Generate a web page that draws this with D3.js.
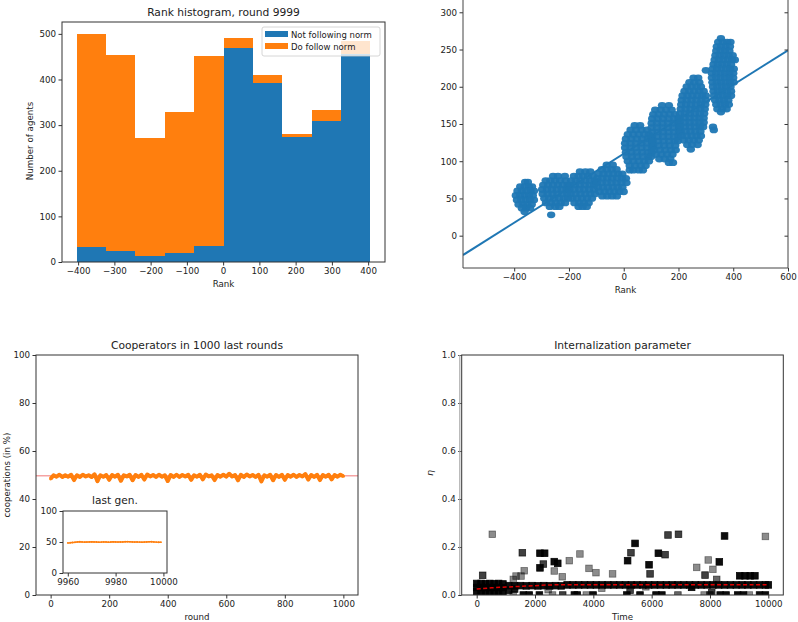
<!DOCTYPE html>
<html>
<head>
<meta charset="utf-8">
<script src="https://cdn.jsdelivr.net/npm/d3@7"></script>
<style>
body { margin: 0; background: #fff; }
svg { display: block; font-family: "DejaVu Sans", sans-serif; }
</style>
</head>
<body>
<svg id="fig" width="798" height="622"></svg>
<script>
// ---- rank histogram (round 9999)
var binEdges = [-404, -323, -242, -161, -80, 1, 82, 163, 244, 325, 406];
var notFollowing = [33, 25, 14, 19, 35, 469, 393, 273, 310, 456];
var doFollow = [467, 429, 258, 310, 416, 21, 17, 7, 24, 28];
var histLegend = ["Not following norm", "Do follow norm"];

// ---- rank vs value scatter: rows of [value, rank, rank, ...]
var rankRows = [
  [72, -360, -350], [66, -378, -362, -346, -335], [60, -388, -372, -356, -340, -328],
  [54, -394, -378, -362, -346, -332], [48, -390, -374, -358, -342, -328],
  [42, -384, -368, -352, -336], [37, -372, -356, -342], [32, -362],
  [80, -258, -240, -215], [74, -285, -268, -250, -232, -212], [68, -294, -276, -258, -240, -222, -205],
  [62, -298, -280, -262, -244, -226, -208], [56, -296, -278, -260, -242, -224, -206],
  [50, -290, -272, -254, -236, -218, -203], [44, -284, -266, -248, -230, -214], [39, -270, -250, -235], [28, -265],
  [86, -160, -140, -122], [80, -182, -165, -148, -130, -112], [74, -192, -175, -158, -140, -122, -106],
  [68, -196, -178, -160, -142, -124, -108], [62, -198, -180, -162, -144, -126, -108],
  [56, -194, -176, -158, -140, -122, -105], [50, -188, -170, -152, -134, -116], [44, -180, -162, -145, -128], [39, -165, -150, -135],
  [95, -62, -40], [89, -80, -62, -44, -26], [83, -92, -74, -56, -38, -20, -5],
  [77, -96, -78, -60, -42, -24, -6, 8], [71, -98, -80, -62, -44, -26, -8, 10],
  [65, -94, -76, -58, -40, -22, -5], [59, -88, -70, -52, -34, -16, 0], [53, -78, -60, -42, -25],
  [148, 40, 60], [142, 25, 45, 65, 85], [136, 15, 35, 55, 75, 92], [130, 8, 28, 48, 68, 88, 102],
  [124, 5, 25, 45, 65, 85, 104], [118, 5, 25, 45, 65, 85, 104], [112, 8, 28, 48, 68, 88, 102],
  [106, 10, 30, 50, 70, 90, 100], [100, 15, 35, 55, 75, 92], [94, 22, 42, 62, 80], [88, 22, 35, 55, 70],
  [175, 140, 165], [169, 115, 135, 155, 175], [163, 108, 128, 148, 168, 188],
  [157, 104, 124, 144, 164, 184, 200], [151, 102, 122, 142, 162, 182, 200], [145, 102, 122, 142, 162, 182, 202],
  [139, 104, 124, 144, 164, 184, 202], [133, 104, 124, 144, 164, 184, 200], [127, 106, 126, 146, 166, 186, 198],
  [121, 108, 128, 148, 168, 188], [115, 112, 132, 152, 172, 190], [109, 118, 138, 158, 178],
  [103, 130, 150, 170], [98, 165, 180],
  [212, 255, 272], [206, 240, 258, 276], [200, 230, 248, 266, 282], [194, 222, 240, 258, 276, 292],
  [188, 215, 233, 251, 269, 287, 300], [182, 212, 230, 248, 266, 284, 300], [176, 210, 228, 246, 264, 282, 298],
  [170, 208, 226, 244, 262, 280, 296], [164, 206, 224, 242, 260, 278, 294], [158, 205, 223, 241, 259, 277, 292],
  [152, 205, 223, 241, 259, 277, 292], [146, 206, 224, 242, 260, 278, 290], [140, 208, 226, 244, 262, 280],
  [134, 212, 230, 248, 266, 282], [128, 220, 238, 256, 274], [122, 232, 250, 270], [116, 245],
  [222, 300], [146, 326], [142, 329],
  [265, 355], [260, 345, 362, 378, 390], [254, 340, 356, 372, 388], [248, 338, 354, 370, 386],
  [242, 335, 351, 367, 383, 398], [236, 332, 348, 364, 380, 396, 406], [230, 328, 344, 360, 376, 392],
  [224, 325, 341, 357, 373, 389, 402], [218, 322, 338, 354, 370, 386, 400], [212, 322, 338, 354, 370, 386, 400],
  [206, 324, 340, 356, 372, 388, 402], [200, 326, 342, 358, 374, 390], [194, 328, 344, 360, 376, 392],
  [188, 330, 346, 362, 378, 392], [182, 334, 350, 366, 382], [176, 338, 354, 370, 384],
  [170, 342, 360, 376], [166, 355]
];
var fitLine = [[-587, -26], [600, 249]];

// ---- cooperators in the 1000 last rounds (every 10th round)
var coopRounds = d3.range(0, 1001, 10);
var coopPct = [48.4, 49.9, 49.3, 50.1, 49.2, 49.9, 49.3, 50.1, 47.9, 49.9,
  49.2, 50.1, 49.4, 49.9, 49.2, 50.3, 47.4, 49.9, 49.3, 50.0,
  48.0, 50.0, 49.3, 50.1, 47.6, 49.9, 49.4, 50.1, 47.8, 50.0,
  49.2, 50.1, 48.1, 50.2, 49.4, 50.0, 49.2, 50.1, 49.3, 49.9,
  47.5, 50.0, 49.2, 50.1, 49.2, 50.0, 49.4, 50.1, 48.0, 49.9,
  49.3, 50.1, 48.2, 50.2, 49.4, 49.9, 47.9, 50.0, 49.3, 50.1,
  49.3, 50.5, 49.4, 50.0, 47.8, 50.1, 49.2, 50.2, 49.4, 50.0,
  49.2, 50.1, 47.3, 49.9, 49.3, 50.1, 47.8, 50.0, 49.2, 50.1,
  48.0, 50.0, 49.3, 50.1, 49.2, 50.0, 49.4, 50.4, 48.1, 50.0,
  49.2, 50.1, 47.9, 50.0, 49.3, 50.1, 48.2, 50.0, 49.3, 50.1, 49.5];
var coopMean = 49.7;

// ---- last generation inset
var lastRounds = d3.range(9960, 10000);
var lastPct = [48.5, 48.8, 49.2, 49.6, 50.1, 50.4, 50.2, 49.8, 49.9, 50.1,
  50.3, 50.2, 50.0, 49.7, 49.9, 50.2, 50.1, 49.8, 50.0, 50.3,
  50.2, 49.9, 50.0, 50.1, 50.4, 50.5, 50.3, 50.1, 49.9, 50.0,
  49.8, 49.7, 49.9, 50.1, 50.3, 50.4, 50.2, 49.8, 49.6, 49.7];

// ---- internalization parameter: [time, eta, opacity]
var etaPts = [
  // dense band
  [0, 0.048, .95], [150, 0.048, .95], [300, 0.047, .95], [450, 0.048, .95], [600, 0.047, .95], [750, 0.048, .95], [900, 0.046, .95],
  [0, 0.031, .95], [150, 0.031, .95], [300, 0.031, .95], [450, 0.031, .95], [600, 0.031, .95], [750, 0.031, .95], [900, 0.031, .95],
  [0, 0.014, .95], [150, 0.014, .95], [300, 0.014, .95], [450, 0.014, .95], [600, 0.014, .95], [750, 0.014, .95], [900, 0.014, .95],
  [1100, 0.039, .95], [1300, 0.038, .95], [1500, 0.039, .95], [1700, 0.038, .95], [1900, 0.039, .95],
  [2100, 0.038, .95], [2300, 0.039, .95], [2500, 0.038, .95], [2700, 0.039, .95], [2900, 0.038, .95],
  [1100, 0.02, .9], [1300, 0.025, .9],
  [3100, 0.042, .95], [3300, 0.042, .95], [3500, 0.042, .95], [3700, 0.042, .95], [3900, 0.042, .95],
  [4100, 0.042, .95], [4300, 0.042, .95], [4500, 0.042, .95], [4700, 0.042, .95], [4900, 0.042, .95],
  [5100, 0.042, .95], [5300, 0.042, .95], [5500, 0.042, .95], [5700, 0.042, .95], [5900, 0.042, .95],
  [6100, 0.042, .95], [6300, 0.042, .95], [6500, 0.042, .95], [6700, 0.042, .95], [6900, 0.042, .95],
  [7100, 0.042, .95], [7300, 0.042, .95], [7500, 0.042, .95], [7700, 0.042, .95], [7900, 0.042, .95],
  [8100, 0.042, .95], [8300, 0.042, .95], [8500, 0.042, .95], [8700, 0.042, .95], [8900, 0.042, .95],
  [9100, 0.042, .95], [9300, 0.042, .95], [9500, 0.042, .95], [9700, 0.042, .95], [9900, 0.042, .95], [10000, 0.042, .95],
  // scattered agents
  [535, 0.253, .45], [205, 0.082, .75], [1255, 0.065, .45], [1350, 0.079, .45], [1520, 0.079, .45],
  [1630, 0.101, .45], [1565, 0.176, .75], [2170, 0.174, .95], [2330, 0.174, .95], [2285, 0.129, .75],
  [2170, 0.113, .95], [2660, 0.139, .95], [2780, 0.132, .95], [2660, 0.1, .45], [2935, 0.076, .45],
  [3175, 0.143, .45], [3540, 0.171, .45], [3850, 0.111, .45], [4090, 0.093, .45], [4660, 0.088, .45],
  [4290, 0.028, .45], [2450, 0.022, .45], [5175, 0.143, .95], [5290, 0.176, .75], [5430, 0.215, .95],
  [5910, 0.126, .95], [5945, 0.088, .75], [6230, 0.174, .95], [6460, 0.168, .75], [6560, 0.25, .75],
  [6920, 0.253, .75], [7545, 0.115, .45], [7940, 0.146, .45], [8100, 0.107, .45], [7830, 0.083, .75],
  [8230, 0.065, .6], [8320, 0.138, .95], [8500, 0.246, .95], [9900, 0.244, .45],
  [9020, 0.08, .95], [9200, 0.08, .95], [9380, 0.08, .95], [9540, 0.08, .95],
  [5260, 0.02, .75], [7370, 0.032, .95], [8060, 0.01, .75], [5800, 0.034, .45],
  // agents at zero
  [1250, 0, .45], [1600, 0, .95], [1800, 0, .95], [2150, 0, .95], [2600, 0, .45], [2950, 0, .75],
  [3350, 0, .95], [3450, 0, .95], [3760, 0, .45], [3990, 0, .95], [5150, 0, .95], [5600, 0, .95],
  [6150, 0, .95], [6350, 0, .95], [6900, 0, .6], [7800, 0, .45], [8000, 0, .75], [8350, 0, .95],
  [8550, 0, .95], [8950, 0, .95], [9150, 0, .95], [9350, 0, .45], [9700, 0, .95], [9900, 0, .95]
];
var etaMean = [[0, 0.025], [500, 0.03], [1000, 0.033], [1500, 0.036], [2000, 0.039], [2500, 0.042], [3000, 0.043], [10000, 0.043]];

var blue = "#1f77b4", orange = "#ff7f0e", ink = "#222";
var svg = d3.select("#fig");

function frame(x0, y0, x1, y1) {
  svg.append("rect")
    .attr("x", x0).attr("y", y0)
    .attr("width", x1 - x0).attr("height", y1 - y0)
    .attr("fill", "none").attr("stroke", "#333").attr("stroke-width", 1);
}

function axis(gen, tx, ty) {
  var a = svg.append("g")
    .attr("transform", "translate(" + tx + "," + ty + ")")
    .call(gen.tickSize(3.5).tickPadding(2.5).tickSizeOuter(0));
  a.attr("font-family", null).attr("font-size", null);
  a.select(".domain").remove();
  a.selectAll(".tick line").attr("stroke", "#333");
  a.selectAll(".tick text").attr("fill", ink).style("font-size", "8.7px");
  return a;
}

function label(txt, x, y, size, rot) {
  return svg.append("text")
    .attr("transform", "translate(" + x + "," + y + ")" + (rot ? " rotate(-90)" : ""))
    .attr("text-anchor", "middle")
    .attr("fill", ink)
    .style("font-size", size + "px")
    .text(txt);
}

// ================= Rank histogram
var hx = d3.scaleLinear().domain([-444.5, 446.5]).range([62, 385]);
var hy = d3.scaleLinear().domain([0, 526]).range([262, 22]);
var bins = notFollowing.map((b, i) => ({x0: binEdges[i], x1: binEdges[i + 1], b: b, o: doFollow[i]}));

svg.append("g").selectAll("rect").data(bins).enter().append("rect")
  .attr("x", d => hx(d.x0)).attr("width", d => hx(d.x1) - hx(d.x0))
  .attr("y", d => hy(d.b)).attr("height", d => hy(0) - hy(d.b))
  .attr("fill", blue).attr("shape-rendering", "crispEdges");
svg.append("g").selectAll("rect").data(bins).enter().append("rect")
  .attr("x", d => hx(d.x0)).attr("width", d => hx(d.x1) - hx(d.x0))
  .attr("y", d => hy(d.b + d.o)).attr("height", d => hy(d.b) - hy(d.b + d.o))
  .attr("fill", orange).attr("shape-rendering", "crispEdges");

axis(d3.axisBottom(hx).tickValues(d3.range(-400, 401, 100)), 0, 262);
axis(d3.axisLeft(hy).tickValues(d3.range(0, 501, 100)), 62, 0);
frame(62, 22, 385, 262);
label("Rank histogram, round 9999", 223.5, 16, 10.7);
label("Rank", 223.5, 287, 8.7);
label("Number of agents", 33, 141, 8.7, true);

var lg = svg.append("g");
lg.append("rect").attr("x", 262).attr("y", 27).attr("width", 118).attr("height", 29).attr("rx", 2)
  .attr("fill", "#fff").attr("fill-opacity", 0.8).attr("stroke", "#ccc").attr("stroke-width", 0.8);
lg.selectAll(".sw").data(histLegend).enter().append("rect")
  .attr("x", 265).attr("y", (d, i) => 31 + i * 12).attr("width", 23).attr("height", 6)
  .attr("fill", (d, i) => i ? orange : blue);
lg.selectAll("text").data(histLegend).enter().append("text")
  .attr("x", 291).attr("y", (d, i) => 37.5 + i * 12)
  .attr("fill", ink).style("font-size", "8.5px").text(d => d);

// ================= Rank scatter with fit
var sx = d3.scaleLinear().domain([-587, 600]).range([463, 788]);
var sy = d3.scaleLinear().domain([-43.4, 316.5]).range([268, 0]);
var rankPts = rankRows.flatMap(r => r.slice(1).map(v => [v, r[0]]));

svg.append("clipPath").attr("id", "clipS").append("rect")
  .attr("x", 463).attr("y", 0).attr("width", 325).attr("height", 268);
var sg = svg.append("g").attr("clip-path", "url(#clipS)");
sg.append("path").datum(fitLine)
  .attr("d", d3.line().x(d => sx(d[0])).y(d => sy(d[1])))
  .attr("stroke", blue).attr("stroke-width", 2).attr("fill", "none");
sg.selectAll("ellipse").data(rankPts).enter().append("ellipse")
  .attr("cx", d => sx(d[0])).attr("cy", d => sy(d[1]))
  .attr("rx", 4.2).attr("ry", 3.4)
  .attr("fill", blue).attr("fill-opacity", 0.95);

axis(d3.axisBottom(sx).tickValues(d3.range(-400, 601, 200)), 0, 268);
axis(d3.axisLeft(sy).tickValues(d3.range(0, 301, 50)), 463, 0);
axis(d3.axisLeft(sy).tickValues(d3.range(0, 301, 50)).tickFormat(""), 788, 0);
svg.append("path").attr("d", d3.line()([[463, 0], [463, 268], [788, 268], [788, 0]]))
  .attr("fill", "none").attr("stroke", "#444").attr("stroke-width", 1);
label("Rank", 625.5, 293, 8.7);

// ================= Cooperators
var cx = d3.scaleLinear().domain([-50, 1050]).range([36, 358]);
var cy = d3.scaleLinear().domain([0, 100]).range([595, 355]);

svg.append("line").attr("x1", 36).attr("x2", 358)
  .attr("y1", cy(coopMean)).attr("y2", cy(coopMean))
  .attr("stroke", "#f5a3a3").attr("stroke-width", 1.5);
svg.append("path").datum(coopPct)
  .attr("d", d3.line().x((d, i) => cx(coopRounds[i])).y(d => cy(d)))
  .attr("fill", "none").attr("stroke", orange).attr("stroke-width", 4).attr("stroke-linejoin", "round");
svg.append("g").selectAll("circle").data(coopPct).enter().append("circle")
  .attr("cx", (d, i) => cx(coopRounds[i])).attr("cy", d => cy(d)).attr("r", 1.6)
  .attr("fill", orange);

axis(d3.axisBottom(cx).tickValues(d3.range(0, 1001, 200)).tickFormat(d3.format("d")), 0, 595);
axis(d3.axisLeft(cy).tickValues(d3.range(0, 101, 20)), 36, 0);
frame(36, 355, 358, 595);
label("Cooperators in 1000 last rounds", 197, 349, 10.7);
label("round", 197, 620, 8.7);
label("cooperations (in %)", 9.5, 475, 8.7, true);

// inset: last generation
var ix = d3.scaleLinear().domain([9958, 10001.5]).range([63, 167]);
var iy = d3.scaleLinear().domain([0, 100]).range([573, 511]);
svg.append("rect").attr("x", 63).attr("y", 511).attr("width", 104).attr("height", 62).attr("fill", "#fff");
svg.append("path").datum(lastPct)
  .attr("d", d3.line().x((d, i) => ix(lastRounds[i])).y(d => iy(d)))
  .attr("fill", "none").attr("stroke", orange).attr("stroke-width", 1.5);
svg.append("g").selectAll("circle").data(lastPct).enter().append("circle")
  .attr("cx", (d, i) => ix(lastRounds[i])).attr("cy", d => iy(d)).attr("r", 0.9)
  .attr("fill", orange);
axis(d3.axisBottom(ix).tickValues([9960, 9980, 10000]).tickFormat(d3.format("d")), 0, 573);
axis(d3.axisLeft(iy).tickValues([0, 50, 100]), 63, 0);
frame(63, 511, 167, 573);
label("last gen.", 115, 504, 10.6);

// ================= Internalization parameter
var ex = d3.scaleLinear().domain([-514, 10514]).range([461.7, 783.3]);
var ey = d3.scaleLinear().domain([0, 1]).range([595, 355]);
svg.append("clipPath").attr("id", "clipE").append("rect")
  .attr("x", 461.7).attr("y", 355).attr("width", 321.6).attr("height", 240);
var eg = svg.append("g").attr("clip-path", "url(#clipE)");
eg.selectAll("rect").data(etaPts).enter().append("rect")
  .attr("x", d => ex(d[0]) - 3.3).attr("y", d => ey(d[1]) - 3.3)
  .attr("width", 6.6).attr("height", 6.6)
  .attr("fill", "#000").attr("fill-opacity", d => d[2])
  .attr("stroke", "#000").attr("stroke-opacity", d => d[2]).attr("stroke-width", 0.8);
eg.append("path").datum(etaMean)
  .attr("d", d3.line().x(d => ex(d[0])).y(d => ey(d[1])))
  .attr("fill", "none").attr("stroke", "#e00000").attr("stroke-width", 1.5)
  .attr("stroke-dasharray", "4,2.5");

axis(d3.axisBottom(ex).tickValues(d3.range(0, 10001, 2000)).tickFormat(d3.format("d")), 0, 595);
axis(d3.axisLeft(ey).tickValues(d3.range(0, 1.01, 0.2)).tickFormat(d3.format(".1f")), 461.7, 0);
svg.append("line").attr("x1", 459.8).attr("x2", 459.8).attr("y1", 355).attr("y2", 595)
  .attr("stroke", "#aaa").attr("stroke-width", 1.2);
frame(461.7, 355, 783.3, 595);
label("Internalization parameter", 622.5, 349, 10.7);
label("Time", 622.5, 620, 8.7);
label("η", 432.5, 473, 9.5, true).style("font-style", "italic");
</script>
</body>
</html>
